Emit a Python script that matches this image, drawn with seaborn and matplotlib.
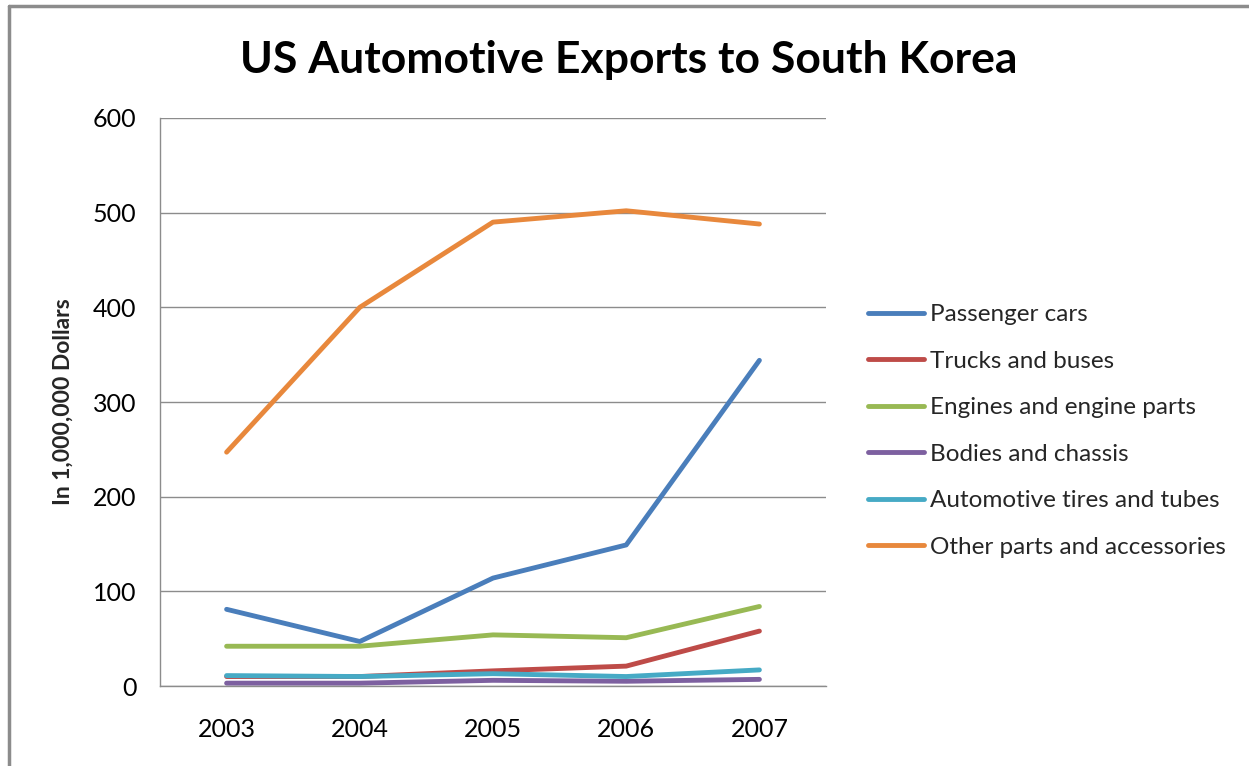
import matplotlib
matplotlib.use("Agg")
import matplotlib.pyplot as plt
import seaborn as sns
import pandas as pd
from matplotlib.lines import Line2D

years = ["2003", "2004", "2005", "2006", "2007"]
passenger_cars = [81, 47, 114, 149, 344]
trucks_buses = [10, 10, 16, 21, 58]
engines = [42, 42, 54, 51, 84]
bodies = [3, 3, 6, 5, 7]
tires = [11, 10, 13, 10, 17]
other_parts = [247, 400, 490, 502, 488]

series_names = ["Passenger cars", "Trucks and buses", "Engines and engine parts",
                "Bodies and chassis", "Automotive tires and tubes", "Other parts and accessories"]
series_values = [passenger_cars, trucks_buses, engines, bodies, tires, other_parts]
colors = ["#4A7EBB", "#BE4B48", "#98B954", "#7D60A0", "#46AAC5", "#E8883C"]
yticks = [0, 100, 200, 300, 400, 500, 600]

rows = []
for name, vals in zip(series_names, series_values):
    for i, (y, v) in enumerate(zip(years, vals)):
        rows.append({"pos": i, "Year": y, "Series": name, "Value": v})
df = pd.DataFrame(rows)

sns.set_theme(style="white")
plt.rcParams['font.family'] = ['Lato', 'DejaVu Sans']

fig = plt.figure(figsize=(12.49, 7.66), dpi=100)
ax = fig.add_axes([160/1249, 1-686/766, (826-160)/1249, (686-118)/766])

sns.lineplot(data=df, x="pos", y="Value", hue="Series", hue_order=series_names,
             palette=colors, linewidth=3.5, ax=ax, legend=False, sort=False)
for ln in ax.get_lines():
    ln.set_solid_capstyle("round")
    ln.set_solid_joinstyle("round")

ax.set_xlim(-0.5, 4.5)
ax.set_ylim(0, 600)
ax.set_xticks(range(len(years)))
ax.set_xticklabels(years)
ax.set_yticks(yticks)
ax.yaxis.grid(True, color="#8C8C8C", linewidth=1)
ax.set_axisbelow(True)
for s in ["top", "right"]:
    ax.spines[s].set_visible(False)
for s in ["left", "bottom"]:
    ax.spines[s].set_color("#8C8C8C")
    ax.spines[s].set_linewidth(1)
ax.tick_params(axis="both", length=0, labelsize=18, colors="#000000")
ax.tick_params(axis="x", pad=23)
ax.tick_params(axis="y", pad=17)
ax.set_xlabel("")
ax.set_ylabel("In 1,000,000 Dollars", fontsize=16.5, fontweight="bold", labelpad=14)

fig.text(629/1249, 1-60/766, "US Automotive Exports to South Korea", ha="center", va="center",
         fontsize=32, fontweight="bold", color="#000000")

handles = [Line2D([0], [0], color=c, lw=3.5, solid_capstyle="round") for c in colors]
leg = fig.legend(handles, series_names, loc="center left",
                 bbox_to_anchor=(858/1249, 1-431/766), frameon=False, fontsize=17.5,
                 handlelength=2.3, handletextpad=0.25, labelspacing=1.05, borderaxespad=0)

# outer frame
fig.add_artist(Line2D([9/1249, 9/1249], [0, 1-6/766], color="#8C8C8C", lw=2.5, transform=fig.transFigure))
fig.add_artist(Line2D([9/1249, 1], [1-6/766, 1-6/766], color="#8C8C8C", lw=2.5, transform=fig.transFigure))

fig.savefig("out.png", dpi=100)
